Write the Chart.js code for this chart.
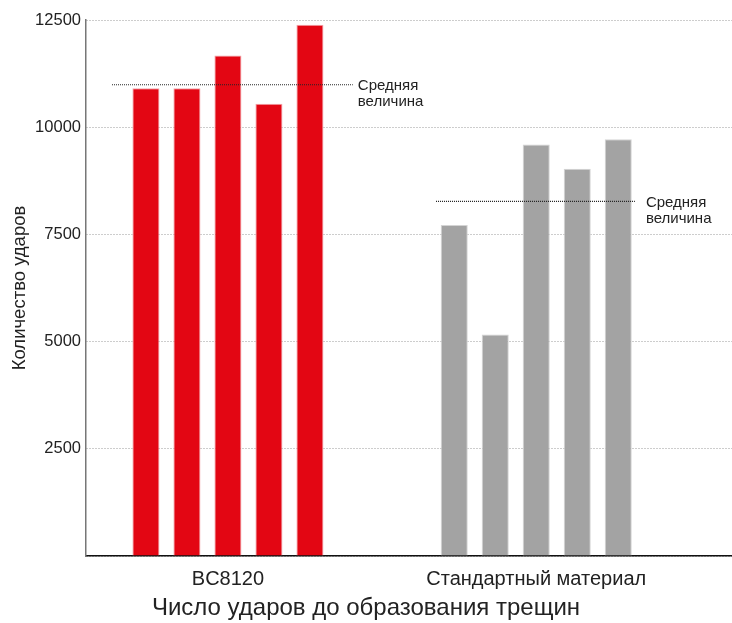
<!DOCTYPE html>
<html>
<head>
<meta charset="utf-8">
<script src="https://cdn.jsdelivr.net/npm/chart.js@4"></script>
<style>
  html, body { margin: 0; padding: 0; background: #fff; }
  #wrap { width: 732px; height: 623px; }
</style>
</head>
<body>
<div id="wrap"><canvas id="chart" width="732" height="623"></canvas></div>
<script>
    const categories = ['BC8120', 'Стандартный материал'];
    const bc8120Hits = [10910, 10910, 11675, 10545, 12390];
    const standardHits = [7720, 5165, 9595, 9030, 9720];
    const averageHits = [10990, 8270];
    const averageLabel = ['Средняя', 'величина'];
    const yTicks = [2500, 5000, 7500, 10000, 12500];

    // where the dotted average lines start/end, relative to the group centre
    const averageSpan = [[-0.376, 0.405], [-0.325, 0.32]];
    const averageGap = [5, 11];
    const groupColors = ['#e30613', '#a3a3a3'];
    const groupBorders = ['#f2a3a8', '#d4d4d4'];
    const FONT = "'Liberation Sans', Arial, sans-serif";

    const barSets = bc8120Hits.map((v, i) => ({
        type: 'bar',
        label: 'Испытание ' + (i + 1),
        data: [{ x: 0, y: v }, { x: 1, y: standardHits[i] }],
        backgroundColor: groupColors,
        borderColor: groupBorders,
        borderWidth: { left: 1, right: 1, top: 1, bottom: 0 },
        categoryPercentage: 0.665,
        barPercentage: 0.66,
        order: 2
    }));

    const avgSets = averageHits.map((v, i) => ({
        type: 'line',
        label: 'avg' + i,
        data: [{ x: i + averageSpan[i][0], y: v }, { x: i + averageSpan[i][1], y: v }],
        borderColor: '#222',
        borderWidth: 1.2,
        borderDash: [1, 1],
        pointRadius: 0,
        fill: false,
        order: 1
    }));

    const averageText = {
        id: 'averageText',
        afterDatasetsDraw(chart) {
            const ctx = chart.ctx;
            ctx.save();
            ctx.font = '15px ' + FONT;
            ctx.fillStyle = '#222';
            ctx.textAlign = 'left';
            ctx.textBaseline = 'middle';
            avgSets.forEach((ds, i) => {
                const meta = chart.getDatasetMeta(barSets.length + i);
                const pt = meta.data[meta.data.length - 1];
                ctx.fillText(averageLabel[0], pt.x + averageGap[i], pt.y + 1);
                ctx.fillText(averageLabel[1], pt.x + averageGap[i], pt.y + 17);
            });
            ctx.restore();
        }
    };

    const chart = new Chart(document.getElementById('chart'), {
        data: { datasets: [...barSets, ...avgSets] },
        options: {
            responsive: false,
            animation: false,
            layout: { padding: { top: 20, right: 0, left: 0, bottom: 0 } },
            plugins: {
                legend: { display: false },
                tooltip: { enabled: false },
                title: {
                    display: true,
                    position: 'bottom',
                    text: 'Число ударов до образования трещин',
                    color: '#222',
                    font: { family: FONT, size: 24, weight: 'normal' },
                    padding: { top: 4, bottom: 0 }
                }
            },
            scales: {
                x: {
                    type: 'linear',
                    offset: false,
                    bounds: 'data',
                    min: -0.4604,
                    max: 1.635,
                    afterBuildTicks: (s) => { s.ticks = categories.map((c, i) => ({ value: i })); },
                    afterFit: (s) => { s.height = 34.2; },
                    grid: { display: false, drawTicks: false, offset: false },
                    border: { display: true, color: '#111', width: 1.5 },
                    ticks: {
                        padding: 11,
                        color: '#222',
                        font: { family: FONT, size: 20 },
                        maxRotation: 0,
                        autoSkip: false,
                        callback: (v) => categories[v] ?? ''
                    }
                },
                y: {
                    min: 0,
                    max: 12500,
                    afterBuildTicks: (s) => { s.ticks = [0, ...yTicks].map(v => ({ value: v })); },
                    afterFit: (s) => { s.width = 86; },
                    grid: { color: '#9a9a9a', lineWidth: 1, drawTicks: false },
                    border: { display: true, color: '#777', width: 1.5, dash: [1, 2] },
                    ticks: {
                        padding: 5,
                        color: '#222',
                        font: { family: FONT, size: 16.5 },
                        callback: (v) => v === 0 ? '' : String(v)
                    },
                    title: {
                        display: true,
                        text: 'Количество ударов',
                        color: '#222',
                        font: { family: FONT, size: 18.5 },
                        padding: { top: 9, bottom: 0 }
                    }
                }
            }
        },
        plugins: [averageText]
    });
</script>
</body>
</html>
